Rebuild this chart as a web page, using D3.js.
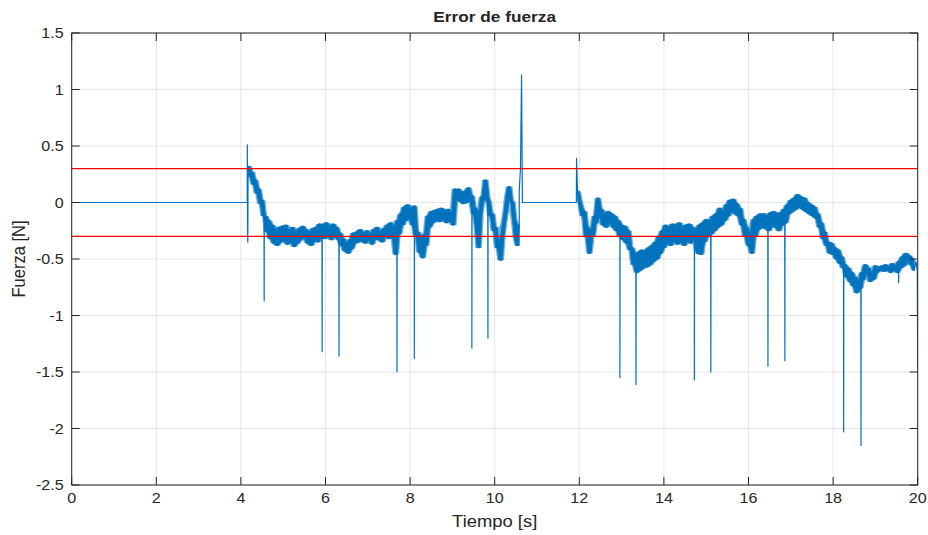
<!DOCTYPE html>
<html>
<head>
<meta charset="utf-8">
<script src="https://cdn.jsdelivr.net/npm/d3@7"></script>
<style>
  html, body { margin: 0; padding: 0; background: #fff; }
  svg { display: block; }
  text { font-family: "Liberation Sans", Arial, Helvetica, sans-serif; fill: #262626; }
</style>
</head>
<body>
<svg id="chart" width="928" height="535"></svg>
<script>
// ---------------- data ----------------
const title = "Error de fuerza";
const xLabel = "Tiempo [s]";
const yLabel = "Fuerza [N]";
const xTicks = [0, 2, 4, 6, 8, 10, 12, 14, 16, 18, 20];
const yTicks = [1.5, 1, 0.5, 0, -0.5, -1, -1.5, -2, -2.5];
const limits = [0.3, -0.3];           // red threshold lines

// flat (zero) parts and transitions: [time, force]
const flatStart = [[0, 0], [4.15, 0], [4.152, 0.51], [4.158, -0.2], [4.163, -0.35], [4.17, 0.30]];
const flatMiddle = [[10.58, 0.10], [10.61, 0.31], [10.635, 1.13], [10.645, 0.55], [10.655, 0.0], [11.93, 0.0], [11.935, 0.39], [11.95, 0.20]];
const flatEnd = [[19.96, -0.52], [19.99, -0.60], [20.0, -1.45]];

// noisy segment A, sampled every 0.04 s starting at 4.18 s
const sampleStep = 0.04;
const startA = 4.18;
const noiseA = [
  0.32, 0.23, 0.27, 0.16, 0.20, 0.08, 0.12, -0.01, 0.02, -0.12,
  -0.12, -0.26, -0.16, -0.32, -0.20, -0.36, -0.24, -0.38, -0.22, -0.35,
  -0.21, -0.34, -0.20, -0.37, -0.25, -0.35, -0.22, -0.39, -0.26, -0.36,
  -0.23, -0.33, -0.21, -0.31, -0.24, -0.36, -0.26, -0.38, -0.23, -0.34,
  -0.22, -0.35, -0.19, -0.31, -0.20, -0.32, -0.18, -0.30, -0.21, -0.33,
  -0.19, -0.29, -0.22, -0.33, -0.27, -0.38, -0.32, -0.43, -0.36, -0.45,
  -0.33, -0.41, -0.27, -0.36, -0.26, -0.35, -0.24, -0.34, -0.27, -0.36,
  -0.25, -0.33, -0.28, -0.37, -0.24, -0.32, -0.22, -0.33, -0.26, -0.35,
  -0.23, -0.30, -0.20, -0.32, -0.18, -0.31, -0.22, -0.46, -0.16, -0.28,
  -0.10, -0.20, -0.04, -0.16, -0.02, -0.14, -0.05, -0.20, -0.03, -0.30,
  -0.26, -0.44, -0.30, -0.49, -0.28, -0.38, -0.12, -0.22, -0.08, -0.18,
  -0.07, -0.16, -0.06, -0.17, -0.05, -0.15, -0.07, -0.18, -0.06, -0.16,
  -0.10, -0.20, 0.12, 0.03, 0.12, 0.01, 0.09, -0.01, 0.10, 0.00,
  0.13, 0.02, 0.06, -0.10, -0.05, -0.22, -0.40, -0.10, 0.05, 0.02,
  0.20, 0.05, 0.00, -0.12, -0.10, -0.25, -0.22, -0.40, -0.35, -0.51,
  -0.30, -0.18, -0.08, 0.05, 0.14, 0.02, 0.00, -0.15, -0.30, -0.38,
  -0.20
];

// noisy segment B, sampled every 0.04 s starting at 11.96 s
const startB = 11.96;
const noiseB = [
  0.10, 0.02, -0.04, -0.12, -0.08, -0.30, -0.22, -0.45, -0.25, -0.30,
  -0.12, -0.18, 0.04, -0.12, -0.06, -0.20, -0.10, -0.22, -0.08, -0.18,
  -0.10, -0.22, -0.12, -0.25, -0.16, -0.30, -0.20, -0.33, -0.21, -0.36,
  -0.25, -0.42, -0.40, -0.55, -0.45, -0.62, -0.44, -0.60, -0.42, -0.58,
  -0.43, -0.57, -0.40, -0.55, -0.38, -0.52, -0.35, -0.50, -0.30, -0.45,
  -0.25, -0.40, -0.20, -0.36, -0.22, -0.38, -0.19, -0.34, -0.20, -0.37,
  -0.18, -0.35, -0.22, -0.38, -0.20, -0.34, -0.19, -0.36, -0.22, -0.30,
  -0.24, -0.45, -0.20, -0.46, -0.18, -0.35, -0.15, -0.30, -0.16, -0.28,
  -0.12, -0.25, -0.10, -0.22, -0.05, -0.20, -0.08, -0.16, -0.02, -0.12,
  0.02, -0.08, 0.03, -0.10, -0.01, -0.12, -0.05, -0.20, -0.15, -0.30,
  -0.22, -0.38, -0.28, -0.45, -0.15, -0.30, -0.12, -0.24, -0.10, -0.22,
  -0.10, -0.23, -0.12, -0.25, -0.09, -0.21, -0.08, -0.22, -0.10, -0.25,
  -0.09, -0.20, -0.06, -0.18, -0.02, -0.10, 0.02, -0.08, 0.04, -0.06,
  0.07, -0.04, 0.05, -0.06, 0.04, -0.08, 0.00, -0.10, -0.02, -0.12,
  -0.04, -0.14, -0.10, -0.22, -0.18, -0.32, -0.26, -0.38, -0.35, -0.45,
  -0.36, -0.46, -0.40, -0.50, -0.42, -0.54, -0.48, -0.58, -0.55, -0.66,
  -0.58, -0.70, -0.62, -0.74, -0.66, -0.80, -0.70, -0.76, -0.62, -0.68,
  -0.55, -0.62, -0.58, -0.70, -0.63, -0.68, -0.56, -0.62, -0.57, -0.60,
  -0.56, -0.61, -0.55, -0.60, -0.57, -0.62, -0.54, -0.60, -0.56, -0.62,
  -0.52, -0.58, -0.48, -0.56, -0.45, -0.52, -0.47, -0.55, -0.50, -0.60
];

// downward spikes
const spikeTimes = [4.55, 5.92, 6.32, 7.69, 8.10, 9.46, 9.84, 12.96, 13.34, 14.72, 15.11, 16.46, 16.86, 18.25, 18.66, 19.55];
const spikeMins  = [-0.87, -1.32, -1.36, -1.50, -1.38, -1.29, -1.20, -1.55, -1.61, -1.57, -1.50, -1.45, -1.40, -2.03, -2.15, -0.71];

// ---------------- build series ----------------
const segA = noiseA.map((v, i) => [startA + i * sampleStep, v]);
const segB = noiseB.map((v, i) => [startB + i * sampleStep, v]);
const pts = [];
flatStart.forEach(p => pts.push(p));
segA.forEach(p => pts.push(p));
flatMiddle.forEach(p => pts.push(p));
segB.forEach(p => pts.push(p));
flatEnd.forEach(p => pts.push(p));
spikeTimes.forEach((t, i) => {
  pts.push([t - 0.004, null]);
  pts.push([t, spikeMins[i]]);
  pts.push([t + 0.004, null]);
});
pts.sort((a, b) => a[0] - b[0]);
for (let i = 0; i < pts.length; i++) {
  if (pts[i][1] === null) {
    let j = i - 1; while (j >= 0 && (pts[j][1] === null || spikeTimes.includes(pts[j][0]))) j--;
    let k = i + 1; while (k < pts.length && (pts[k][1] === null || spikeTimes.includes(pts[k][0]))) k++;
    const a = pts[j], b = pts[k];
    pts[i][1] = a[1] + (b[1] - a[1]) * (pts[i][0] - a[0]) / (b[0] - a[0]);
  }
}
// local min/max envelope of the noisy samples (dense noise band)
function envelope(seg, w) {
  return seg.map((p, i) => {
    const win = seg.slice(Math.max(0, i - w), Math.min(seg.length, i + w + 1)).map(q => q[1]);
    return [p[0], d3.min(win), d3.max(win)];
  });
}

// ---------------- draw ----------------
const svg = d3.select("#chart");
const m = { left: 71.7, right: 917.7, top: 33, bottom: 485 };
const x = d3.scaleLinear().domain([0, 20]).range([m.left, m.right]);
const y = d3.scaleLinear().domain([-2.5, 1.5]).range([m.bottom, m.top]);
const axisCol = "#262626";
const gridCol = "#e6e6e6";
const lineCol = "#0072BD";

// grid
const grid = svg.append("g");
grid.selectAll(".gx").data(xTicks).join("line")
  .attr("x1", d => x(d)).attr("x2", d => x(d))
  .attr("y1", m.top).attr("y2", m.bottom)
  .attr("stroke", gridCol).attr("stroke-width", 1);
grid.selectAll(".gy").data(yTicks).join("line")
  .attr("x1", m.left).attr("x2", m.right)
  .attr("y1", d => y(d)).attr("y2", d => y(d))
  .attr("stroke", gridCol).attr("stroke-width", 1);

svg.append("clipPath").attr("id", "clip").append("rect")
  .attr("x", m.left).attr("y", m.top).attr("width", m.right - m.left).attr("height", m.bottom - m.top);

// noise band (outer lighter fringe + core)
const area = d3.area().x(d => x(d[0])).y0(d => y(d[1])).y1(d => y(d[2]));
[segA, segB].forEach(seg => {
  svg.append("path").datum(envelope(seg, 2))
    .attr("clip-path", "url(#clip)")
    .attr("fill", lineCol).attr("fill-opacity", 0.55)
    .attr("d", area);
  svg.append("path").datum(envelope(seg, 1))
    .attr("clip-path", "url(#clip)")
    .attr("fill", lineCol).attr("fill-opacity", 0.95)
    .attr("stroke", lineCol).attr("stroke-width", 0.8)
    .attr("d", area);
});

// data line
svg.append("path")
  .datum(pts)
  .attr("clip-path", "url(#clip)")
  .attr("fill", "none")
  .attr("stroke", lineCol)
  .attr("stroke-width", 1.2)
  .attr("stroke-linejoin", "round")
  .attr("d", d3.line().x(d => x(d[0])).y(d => y(d[1])));

// threshold lines
svg.selectAll(".lim").data(limits).join("line")
  .attr("x1", m.left).attr("x2", m.right)
  .attr("y1", d => y(d)).attr("y2", d => y(d))
  .attr("stroke", "#FF0000").attr("stroke-width", 1.1);

// axes (MATLAB-style box with inward ticks)
const tickLen = 8;
const axG = svg.append("g").attr("stroke", axisCol).attr("stroke-width", 1).attr("fill", "none");
axG.append("rect").attr("x", m.left).attr("y", m.top).attr("width", m.right - m.left).attr("height", m.bottom - m.top);
xTicks.forEach(t => {
  axG.append("line").attr("x1", x(t)).attr("x2", x(t)).attr("y1", m.bottom).attr("y2", m.bottom - tickLen);
  axG.append("line").attr("x1", x(t)).attr("x2", x(t)).attr("y1", m.top).attr("y2", m.top + tickLen);
});
yTicks.forEach(t => {
  axG.append("line").attr("x1", m.left).attr("x2", m.left + tickLen).attr("y1", y(t)).attr("y2", y(t));
  axG.append("line").attr("x1", m.right).attr("x2", m.right - tickLen).attr("y1", y(t)).attr("y2", y(t));
});

// tick labels (slightly wide, as in the reference)
const hs = 1.15;
svg.selectAll(".xl").data(xTicks).join("text")
  .attr("transform", d => `translate(${x(d)},${m.bottom + 18}) scale(${hs},1)`)
  .attr("text-anchor", "middle").attr("font-size", 14)
  .text(d => String(d));
svg.selectAll(".yl").data(yTicks).join("text")
  .attr("transform", d => `translate(${m.left - 8},${y(d) + 5}) scale(${hs},1)`)
  .attr("text-anchor", "end").attr("font-size", 14)
  .text(d => String(d));

// labels
svg.append("text").attr("transform", `translate(${(m.left + m.right) / 2},22) scale(${hs},1)`)
  .attr("text-anchor", "middle").attr("font-size", 15).attr("font-weight", "bold")
  .attr("fill", "#000").text(title);
svg.append("text").attr("transform", `translate(${(m.left + m.right) / 2},527) scale(${hs},1)`)
  .attr("text-anchor", "middle").attr("font-size", 16).text(xLabel);
svg.append("text").attr("transform", `translate(25,${(m.top + m.bottom) / 2}) rotate(-90) scale(1,${hs})`)
  .attr("text-anchor", "middle").attr("font-size", 16.5).text(yLabel);
</script>
</body>
</html>
